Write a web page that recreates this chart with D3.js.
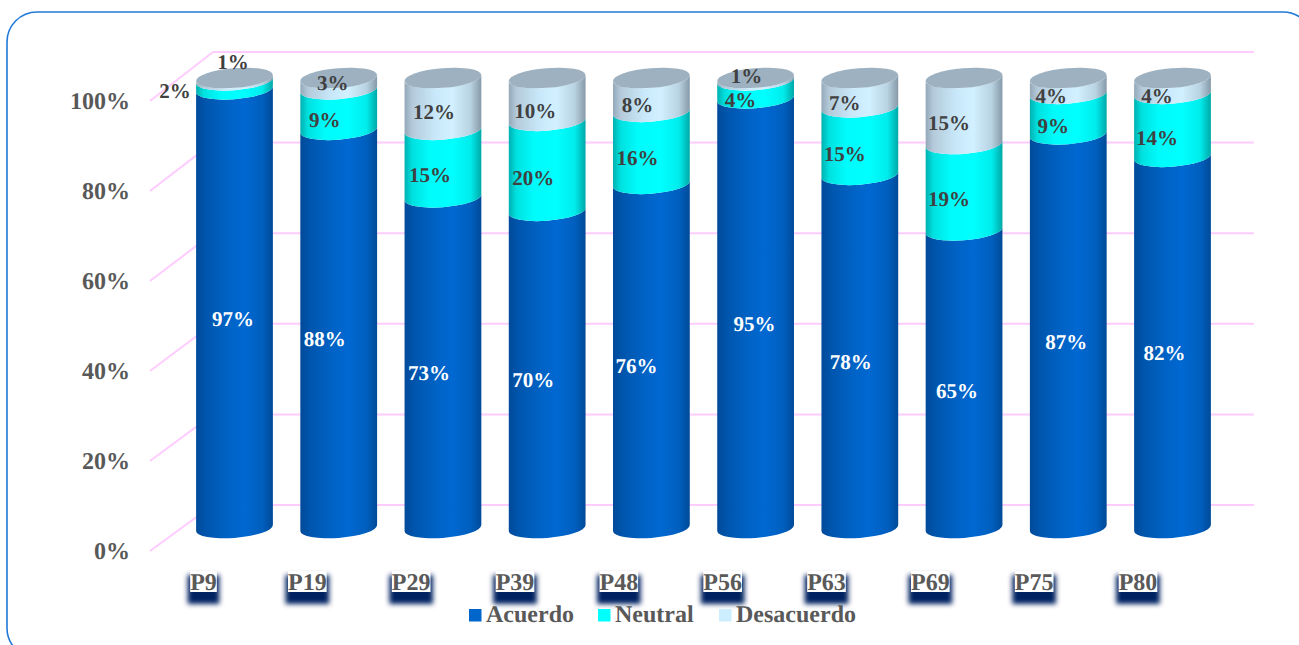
<!DOCTYPE html>
<html lang="es">
<head>
<meta charset="utf-8">
<script src="https://cdn.jsdelivr.net/npm/d3@7"></script>
<style>
html,body{margin:0;padding:0;background:#fff;overflow:hidden}
svg{display:block}
text{font-family:"Liberation Serif",serif;font-weight:bold;text-rendering:geometricPrecision}
</style>
</head>
<body>
<svg id="c" width="1299" height="645"></svg>
<script>
// ---- data ----
const categories = ["P9","P19","P29","P39","P48","P56","P63","P69","P75","P80"];
const acuerdo    = [97,88,73,70,76,95,78,65,87,82];
const neutral    = [2,9,15,20,16,4,15,19,9,14];
const desacuerdo = [1,3,12,10,8,1,7,15,4,4];
const yTicks     = [0,20,40,60,80,100];
const seriesNames = ["Acuerdo","Neutral","Desacuerdo"];

// ---- hand-placed label offsets from each band's centre, as in the source chart ----
const nudgeAcuerdo    = [[-1.5,9],[-14,9],[-14,9],[-14,9],[-15,9],[-1,9],[-9,9],[-7,9],[-2,9],[-8,9]];
const nudgeNeutral    = [[-59.5,4],[-14,8],[-13,9],[-14,10],[-14,8],[-15,8.5],[-15,10],[-15,6],[-15,9],[-15.5,10]];
const nudgeDesacuerdo = [[-1.5,-19],[-6,-2],[-9,7],[-12,10],[-14,9],[-9,-5],[-15,9],[-15,6],[-17,9],[-15.5,9]];

const svg = d3.select("#c");
const defs = svg.append("defs");

// scales
const yFront = d3.scaleLinear().domain([0,100]).range([551,101]);
const yBack  = d3.scaleLinear().domain([0,100]).range([505,52]);
const yCyl   = d3.scaleLinear().domain([0,100]).range([528,78]);
const x = d3.scalePoint().domain(categories).range([234.5,1172.5]);
const xFront = 150, xBack = 213, xRight = 1254;
const seam = 2.2, labelDrop = 2.5;

// frame
svg.append("rect").attr("x",7).attr("y",12).attr("width",1306).attr("height",646)
  .attr("rx",30).attr("ry",30).attr("fill","#fff").attr("stroke","#2179d8").attr("stroke-width",1.6);

// gradients
function grad(id, stops){
  const g = defs.append("linearGradient").attr("id",id)
    .attr("x1","0").attr("x2","1").attr("y1","0").attr("y2","0");
  stops.forEach(([o,c])=>g.append("stop").attr("offset",o).attr("stop-color",c));
}
grad("gA",[[0,"#004a9a"],[0.14,"#0056ae"],[0.4,"#0062c4"],[0.62,"#0068d2"],[0.86,"#005fbe"],[1,"#004a98"]]);
grad("gN",[[0,"#00b0b0"],[0.1,"#00e0e0"],[0.32,"#00fbfb"],[0.62,"#00ffff"],[0.86,"#00ecec"],[1,"#00a8a8"]]);
grad("gD",[[0,"#94a8b8"],[0.1,"#b4cada"],[0.4,"#c8e8fa"],[0.62,"#d2f0ff"],[0.86,"#b8d2e2"],[1,"#8699a8"]]);

const fills = ["url(#gA)","url(#gN)","url(#gD)"];
const swatch = ["#0066cc","#00ffff","#cceeff"];
const capFill = "#9db1c0";
const labelFill = ["#ffffff","#404040","#404040"];

// grid: back wall lines and side diagonals
const grid = svg.append("g").attr("stroke","#ffccff").attr("stroke-width",2).attr("fill","none");
grid.selectAll(".b").data(yTicks).join("line")
  .attr("x1",xBack).attr("x2",xRight).attr("y1",d=>yBack(d)).attr("y2",d=>yBack(d));
grid.selectAll(".d").data(yTicks).join("line")
  .attr("x1",xFront).attr("x2",xBack).attr("y1",d=>yFront(d)).attr("y2",d=>yBack(d));

// value axis
const axis = d3.axisLeft(yFront).tickValues(yTicks).tickFormat(d=>d+"%").tickSize(0).tickPadding(0);
const ax = svg.append("g").attr("transform","translate(130,0)").call(axis);
ax.select(".domain").remove();
ax.selectAll("text").attr("font-size",24).attr("fill","#595959")
  .style("font-family",'"Liberation Serif",serif').style("font-weight","bold")
  .attr("dy",null).attr("y",7);

// cylinders
const rx = 38.5, ry = 9.9, tilt = -4.6;
const th = tilt*Math.PI/180;
const tEdge = Math.atan(-(ry/rx)*Math.tan(th));
const ex = rx*Math.cos(tEdge)*Math.cos(th) - ry*Math.sin(tEdge)*Math.sin(th);
const ey = rx*Math.cos(tEdge)*Math.sin(th) + ry*Math.sin(tEdge)*Math.cos(th);
function band(cx,y0,y1){
  // y0 lower, y1 upper; both edges bulge downward
  return `M${cx-ex},${y1-ey} L${cx-ex},${y0-ey}`+
    ` A${rx},${ry} ${tilt} 0 0 ${cx+ex},${y0+ey}`+
    ` L${cx+ex},${y1+ey}`+
    ` A${rx},${ry} ${tilt} 0 1 ${cx-ex},${y1-ey}Z`;
}
const seriesVals = [acuerdo,neutral,desacuerdo];
const nudges = [nudgeAcuerdo,nudgeNeutral,nudgeDesacuerdo];
const bars = svg.append("g");
const labelsData = [];
categories.forEach((c,i)=>{
  const cx = x(c);
  const total = d3.sum(seriesVals,v=>v[i]);
  const g = bars.append("g");
  let cum = 0, raw = 0;
  seriesVals.forEach((vals,s)=>{
    const v = vals[i];
    const next = cum + v/total*100;
    const y0 = yCyl(cum) - (s===0?0:seam);
    const y1 = yCyl(next) - (s===2?0:seam);
    g.append("path").attr("d",band(cx,y0,y1)).attr("fill",fills[s]);
    labelsData.push({x:cx+nudges[s][i][0], y:yCyl(raw+v/2)+nudges[s][i][1]+labelDrop, t:v+"%", s});
    cum = next; raw += v;
  });
  g.append("ellipse").attr("rx",rx).attr("ry",ry)
    .attr("transform",`translate(${cx},${yCyl(100)}) rotate(${tilt})`)
    .attr("fill",capFill);
});

// value labels
svg.append("g").selectAll("text").data(labelsData).join("text")
  .attr("x",d=>d.x).attr("y",d=>d.y).attr("text-anchor","middle").attr("font-size",21)
  .attr("dominant-baseline","middle")
  .attr("fill",d=>labelFill[d.s]).text(d=>d.t);

// category labels with navy blurred shadow
const blur = defs.append("filter").attr("id","bl").attr("x","-40%").attr("y","-40%").attr("width","180%").attr("height","180%");
blur.append("feGaussianBlur").attr("stdDeviation",2.4);
const catG = svg.append("g");
const catOffset = d3.scalePoint().domain(categories).range([203.5,1138]);
categories.forEach(c=>{
  const g = catG.append("g");
  const tx = g.append("text").attr("x",catOffset(c)).attr("y",590).attr("text-anchor","middle")
    .attr("font-size",24).attr("fill","#595959").text(c);
  const w = tx.node().getComputedTextLength();
  const left = catOffset(c)-w/2;
  g.insert("rect","text").attr("x",left).attr("y",571).attr("width",w).attr("height",21).attr("fill","#fff");
  g.insert("rect","rect").attr("x",left-2.5).attr("y",575).attr("width",w+5).attr("height",29)
    .attr("fill","#002060").attr("filter","url(#bl)");
});

// legend
const legendX = d3.scaleOrdinal().domain(seriesNames).range([469,598,719]);
const lg = svg.append("g").selectAll("g").data(seriesNames).join("g")
  .attr("transform",d=>`translate(${legendX(d)},609)`);
lg.append("rect").attr("width",12.5).attr("height",12.5).attr("fill",(d,i)=>swatch[i]);
lg.append("text").attr("x",17).attr("y",13).attr("font-size",24).attr("fill","#595959").text(d=>d);
</script>
</body>
</html>
